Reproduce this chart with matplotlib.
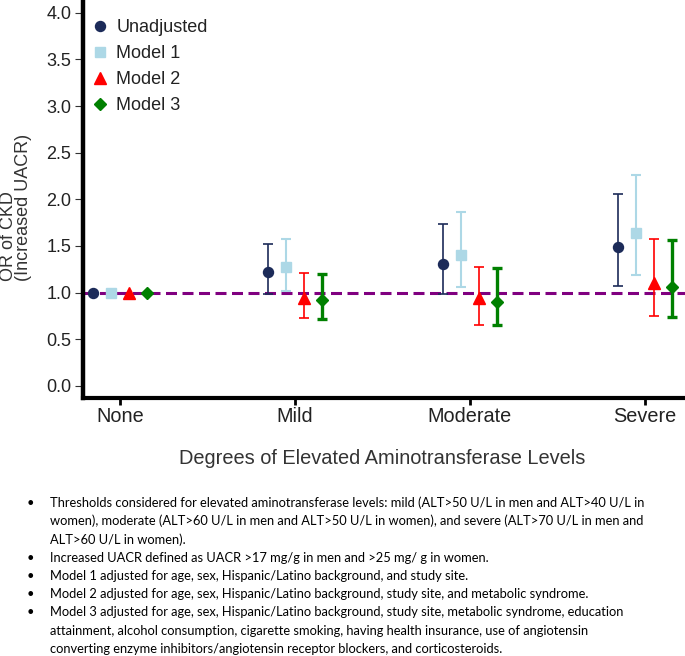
import matplotlib
matplotlib.use("Agg")
import matplotlib.pyplot as plt
import numpy as np

# ---- data ----
categories = ["None", "Mild", "Moderate", "Severe"]

unadj_or = [1.00, 1.22, 1.31, 1.49]
unadj_lo = [1.00, 0.98, 0.98, 1.07]
unadj_hi = [1.00, 1.52, 1.74, 2.06]

m1_or = [1.00, 1.27, 1.40, 1.64]
m1_lo = [1.00, 1.02, 1.06, 1.19]
m1_hi = [1.00, 1.58, 1.86, 2.26]

m2_or = [1.00, 0.945, 0.94, 1.10]
m2_lo = [1.00, 0.73, 0.65, 0.75]
m2_hi = [1.00, 1.21, 1.27, 1.57]

m3_or = [1.00, 0.92, 0.90, 1.06]
m3_lo = [1.00, 0.72, 0.65, 0.74]
m3_hi = [1.00, 1.20, 1.26, 1.56]

series_labels = ["Unadjusted", "Model 1", "Model 2", "Model 3"]

notes = [
    ["Thresholds considered for elevated aminotransferase levels: mild (ALT>50 U/L in men and ALT>40 U/L in",
     "women), moderate (ALT>60 U/L in men and ALT>50 U/L in women), and severe (ALT>70 U/L in men and",
     "ALT>60 U/L in women)."],
    ["Increased UACR defined as UACR >17 mg/g in men and >25 mg/ g in women."],
    ["Model 1 adjusted for age, sex, Hispanic/Latino background, and study site."],
    ["Model 2 adjusted for age, sex, Hispanic/Latino background, study site, and metabolic syndrome."],
    ["Model 3 adjusted for age, sex, Hispanic/Latino background, study site, metabolic syndrome, education",
     "attainment, alcohol consumption, cigarette smoking, having health insurance, use of angiotensin",
     "converting enzyme inhibitors/angiotensin receptor blockers, and corticosteroids."],
]

plt.rcParams["font.family"] = ["Liberation Sans", "DejaVu Sans"]

W, H = 685, 656
fig = plt.figure(figsize=(W / 100, H / 100), dpi=100)
ax = fig.add_axes([83 / W, 1 - 398 / H, 602 / W, 398 / H])

# style per series: colour, marker, marker size, bar width, x offset
styles = [
    ("#1c2b59", "o", 7.2, 1.2, -0.152),
    ("#add8e6", "s", 7, 1.5, -0.050),
    ("#ff0000", "^", 8, 1.2, 0.051),
    ("#008000", "D", 6.3, 2.4, 0.153),
]
data = [
    (unadj_or, unadj_lo, unadj_hi),
    (m1_or, m1_lo, m1_hi),
    (m2_or, m2_lo, m2_hi),
    (m3_or, m3_lo, m3_hi),
]

x = np.arange(len(categories))
ax.axhline(1.0, color="#800080", lw=2.2, dashes=(3.6, 1.8), zorder=2)

for lab, (orv, lo, hi), (col, mk, ms, lw, off) in zip(series_labels, data, styles):
    orv, lo, hi = np.array(orv), np.array(lo), np.array(hi)
    m = hi > lo
    ax.errorbar(x[m] + off, orv[m], yerr=[orv[m] - lo[m], hi[m] - orv[m]],
                fmt="none", ecolor=col, elinewidth=lw, capsize=3.6,
                capthick=lw, zorder=3)
    ax.plot(x + off, orv, ls="none", marker=mk, ms=ms, color=col,
            mec=col, label=lab, zorder=4)

ax.set_xlim(-0.211, 3.229)
ax.set_ylim(-0.13, 4.137)

ax.set_xticks(x)
ax.set_xticklabels(categories)
yt = np.arange(0, 4.01, 0.5)
ax.set_yticks(yt)
ax.set_yticklabels([f"{v:.1f}" for v in yt])

for s in ["top", "right"]:
    ax.spines[s].set_visible(False)
ax.spines["left"].set_linewidth(3.2)
ax.spines["bottom"].set_linewidth(3.0)

ax.tick_params(axis="y", length=6, width=0.8, color="#333333",
               labelsize=13, pad=2.5, labelcolor="#222222")
ax.tick_params(axis="x", length=5.3, width=2, color="black",
               labelsize=14.3, pad=1.5, labelcolor="#222222")

ax.set_xlabel("Degrees of Elevated Aminotransferase Levels", fontsize=14.4,
              color="#333333", va="center")
ax.xaxis.set_label_coords(0.497, -(458 - 398) / 398)

ax.set_ylabel("OR of CKD\n(Increased UACR)", fontsize=13, color="#333333",
              multialignment="left", linespacing=0.85, va="center")
ax.yaxis.set_label_coords(-(83 - 16) / 602, (398 - 207) / 398)

ax.legend(loc="upper left", bbox_to_anchor=((91 - 83) / 602, (398 - 19) / 398),
          frameon=False, fontsize=13, handlelength=1.0, handletextpad=0.4,
          labelspacing=0.5, borderaxespad=0, borderpad=0, numpoints=1,
          labelcolor="#222222")

# ---- notes below the chart ----
note_font = ["Lato", "DejaVu Sans"]
probe = fig.text(0, 0, notes[0][0], fontsize=10, family=note_font)
fig.canvas.draw()
fs = 10 * 596 / probe.get_window_extent().width
probe.remove()

y = 502.7
for bullet in notes:
    fig.text(27 / W, 1 - y / H, "\u2022", fontsize=fs, family=note_font,
             ha="left", va="center")
    for line in bullet:
        fig.text(50 / W, 1 - y / H, line, fontsize=fs, family=note_font,
                 ha="left", va="center")
        y += 18.3

fig.savefig("out.png", dpi=100)
